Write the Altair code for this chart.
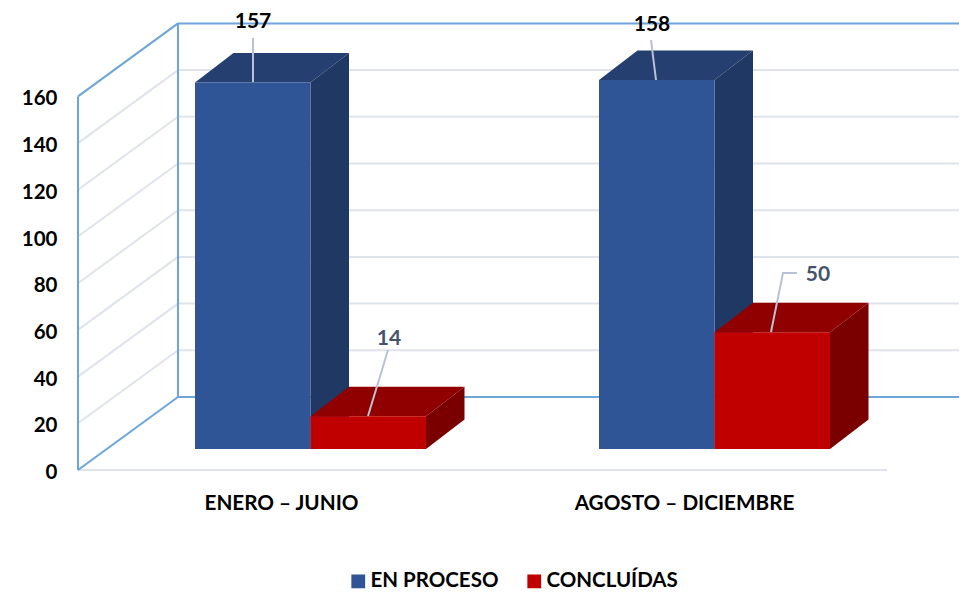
import altair as alt
import pandas as pd

categories = ["ENERO – JUNIO", "AGOSTO – DICIEMBRE"]
series_names = ["EN PROCESO", "CONCLUÍDAS"]
en_proceso = [157, 158]
concluidas = [14, 50]
y_ticks = [0, 20, 40, 60, 80, 100, 120, 140, 160]

FONT = "Lato"
C_GRID = "#DFE3EB"
C_WALL = "#6BA5DB"
C_LEAD = "#B7C3D5"
C_BLUE = ("#2F5597", "#243F70", "#1F3864")
C_RED = ("#C00000", "#900000", "#7A0000")

PX = 2.335
LEFT, RIGHT, FLOOR = 78, 959, 470
TOP = 8
WALL_DX, WALL_DY = 100, 73.0 / PX
BAR_DX, BAR_DY = 38.5, 29.5 / PX
BASE = 21 / PX
BAR_W = 115.5
GROUP_X = [195, 599]
CAT_X = [281, 684]
FRONT_END = 887


def v(py):
    return (FLOOR - py) / PX


xs = alt.Scale(domain=[LEFT, RIGHT], nice=False, zero=False)
ys = alt.Scale(domain=[0, v(TOP)], nice=False, zero=False)
H = FLOOR - TOP
WIDTH = RIGHT - LEFT

label_expr = f"datum.value < 500 ? '{categories[0]}' : '{categories[1]}'"
x_axis = alt.Axis(values=CAT_X, labelExpr=label_expr, domain=False, ticks=False, grid=False,
                  title=None, labelFont=FONT, labelFontWeight="bold", labelFontSize=20.7,
                  labelColor="black", labelPadding=33, labelBaseline="middle", labelOverlap=False,
                  labelLimit=400)
y_axis = alt.Axis(values=y_ticks, domain=False, ticks=False, grid=False, title=None,
                  labelFont=FONT, labelFontWeight="bold", labelFontSize=20.5,
                  labelColor="black", labelPadding=21, labelOffset=2.5)

# wall / floor segments
grey, blue = [], []
for t in y_ticks[1:-1]:
    grey.append(dict(x=LEFT, x2=LEFT + WALL_DX, y=t, y2=t + WALL_DY))
for t in y_ticks[1:-1]:
    grey.append(dict(x=LEFT + WALL_DX, x2=RIGHT, y=t + WALL_DY, y2=t + WALL_DY))
grey.append(dict(x=LEFT, x2=FRONT_END, y=0, y2=0))
blue += [
    dict(x=LEFT, x2=LEFT, y=0, y2=160),
    dict(x=LEFT, x2=LEFT + WALL_DX, y=160, y2=160 + WALL_DY),
    dict(x=LEFT, x2=LEFT + WALL_DX, y=0, y2=WALL_DY),
    dict(x=LEFT + WALL_DX, x2=LEFT + WALL_DX, y=WALL_DY, y2=160 + WALL_DY),
    dict(x=LEFT + WALL_DX, x2=RIGHT, y=160 + WALL_DY, y2=160 + WALL_DY),
    dict(x=LEFT + WALL_DX, x2=RIGHT, y=WALL_DY, y2=WALL_DY),
]

X = alt.X("x:Q", scale=xs, axis=x_axis)
Y = alt.Y("y:Q", scale=ys, axis=y_axis)


def rules(rows, color):
    return alt.Chart(pd.DataFrame(rows)).mark_rule(color=color, strokeWidth=2).encode(
        x=X, x2="x2:Q", y=Y, y2="y2:Q",
    )


# bars
fronts, sides, tops = [], [], []
for si, (name, vals, pal) in enumerate(zip(series_names, [en_proceso, concluidas], [C_BLUE, C_RED])):
    for gi, val in enumerate(vals):
        l = GROUP_X[gi] + si * BAR_W
        r = l + BAR_W
        top = BASE + val
        key = f"{si}-{gi}"
        fronts.append(dict(s=name, x=l, x2=r, y=BASE, y2=top, si=si))
        sides += [dict(k=key, si=si, fill=pal[2], x=r, y=BASE, y2=top),
                  dict(k=key, si=si, fill=pal[2], x=r + BAR_DX, y=BASE + BAR_DY, y2=top + BAR_DY)]
        tops += [dict(k=key, si=si, fill=pal[1], y=top, x=l, x2=r),
                 dict(k=key, si=si, fill=pal[1], y=top + BAR_DY, x=l + BAR_DX, x2=r + BAR_DX)]
fronts, sides, tops = map(pd.DataFrame, (fronts, sides, tops))


def side_layer(si):
    return alt.Chart(sides[sides.si == si]).mark_area(opacity=1).encode(
        x=X, y=Y, y2="y2:Q",
        detail="k:N",
        color=alt.Color("fill:N", scale=None),
    )


def top_layer(si):
    return alt.Chart(tops[tops.si == si]).mark_area(orient="horizontal", opacity=1).encode(
        y=Y, x=X, x2="x2:Q",
        detail="k:N",
        color=alt.Color("fill:N", scale=None),
    )


def front_layer(si):
    return alt.Chart(fronts[fronts.si == si]).mark_bar(opacity=1).encode(
        x=X, x2="x2:Q", y=Y, y2="y2:Q",
        color=alt.Color(
            "s:N",
            scale=alt.Scale(domain=series_names, range=[C_BLUE[0], C_RED[0]]),
            legend=alt.Legend(
                orient="none", legendX=270, legendY=563, direction="horizontal", columns=2,
                title=None, symbolType="square", symbolSize=190, symbolStrokeWidth=0,
                labelFont=FONT, labelFontWeight="bold", labelFontSize=20.5, labelColor="black",
                columnPadding=25, labelOffset=2, symbolOpacity=1, labelLimit=300, padding=0,
            ),
        ),
    )


# leader lines
leaders = pd.DataFrame([
    dict(g=0, o=0, x=253, y=v(82)), dict(g=0, o=1, x=253, y=v(38)),
    dict(g=1, o=0, x=368, y=v(416)), dict(g=1, o=1, x=388, y=v(350)),
    dict(g=2, o=0, x=656, y=v(80)), dict(g=2, o=1, x=651, y=v(40)),
    dict(g=3, o=0, x=771, y=v(332)), dict(g=3, o=1, x=783, y=v(273)), dict(g=3, o=2, x=797, y=v(273)),
])
leader_layer = alt.Chart(leaders).mark_line(color=C_LEAD, strokeWidth=2).encode(
    x=X, y=Y,
    detail="g:N",
    order="o:Q",
)

labels = pd.DataFrame([
    dict(t=str(en_proceso[0]), x=253, y=v(22), c="black"),
    dict(t=str(concluidas[0]), x=389, y=v(339), c="#44546A"),
    dict(t=str(en_proceso[1]), x=652, y=v(25), c="black"),
    dict(t=str(concluidas[1]), x=818, y=v(275), c="#44546A"),
])
label_layer = alt.Chart(labels).mark_text(
    font=FONT, fontWeight="bold", fontSize=21, align="center", baseline="middle"
).encode(
    x=X, y=Y,
    text="t:N",
    color=alt.Color("c:N", scale=None),
)

chart = alt.layer(
    rules(grey, C_GRID),
    rules(blue, C_WALL),
    side_layer(0), top_layer(0), front_layer(0),
    side_layer(1), top_layer(1), front_layer(1),
    leader_layer, label_layer,
).properties(
    width=WIDTH,
    height=H,
    padding={"left": LEFT - 8, "top": TOP - 8, "right": 0, "bottom": 122},
    autosize=alt.AutoSizeParams(type="none"),
    background="white",
).configure_view(stroke=None)

chart.save("out.html", embed_options={"renderer": "svg", "actions": False})
